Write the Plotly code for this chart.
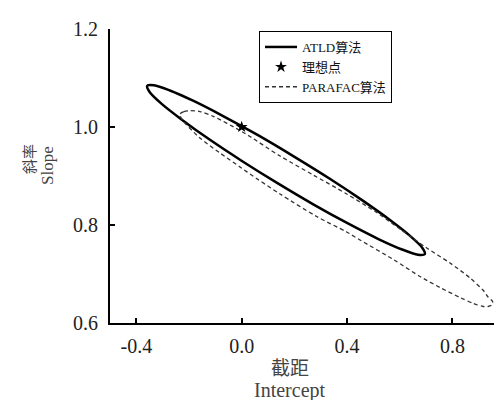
import plotly.graph_objects as go

# ATLD confidence ellipse outline (going round the ellipse)
atld_x = [0.6954, 0.6855, 0.6403, 0.5629, 0.4584, 0.3346, 0.1990, 0.0619, -0.0687,
          -0.1827, -0.2727, -0.3331, -0.3589, -0.3490, -0.3038, -0.2260, -0.1219, 0.0023,
          0.1375, 0.2750, 0.4052, 0.5192, 0.6092, 0.6696, 0.6954]
atld_y = [0.7406, 0.7537, 0.7773, 0.8102, 0.8502, 0.8943, 0.9396, 0.9833, 1.0218,
          1.0531, 1.0745, 1.0851, 1.0839, 1.0708, 1.0471, 1.0143, 0.9743, 0.9302,
          0.8849, 0.8412, 0.8027, 0.7714, 0.7500, 0.7394, 0.7406]

# PARAFAC confidence ellipse outline (going round the ellipse)
parafac_x = [-0.2343, -0.2191, -0.1964, -0.1584, -0.1079, -0.0065, 0.0315, 0.1455, 0.2719,
             0.3988, 0.5127, 0.6012, 0.7026, 0.7911, 0.8671, 0.9176, 0.9354, 0.9526, 0.9495,
             0.9354, 0.9165, 0.8796, 0.8291, 0.7531, 0.6772, 0.5758, 0.4493, 0.3988, 0.2848,
             0.1455, 0.0315, -0.0065, -0.0824, -0.1584, -0.2153, -0.2343, -0.2343]
parafac_y = [1.0265, 1.0316, 1.0333, 1.0316, 1.0218, 0.9929, 0.9806, 0.9408, 0.9020,
             0.8633, 0.8255, 0.7918, 0.7531, 0.7224, 0.6918, 0.6663, 0.6531, 0.6439, 0.6367,
             0.6337, 0.6337, 0.6398, 0.6520, 0.6724, 0.6949, 0.7296, 0.7694, 0.7857, 0.8173,
             0.8633, 0.9041, 0.9184, 0.9469, 0.9776, 1.0082, 1.0224, 1.0265]

# ideal point
ideal_x = [0.0]
ideal_y = [1.0]

x_ticks = [-0.4, 0.0, 0.4, 0.8]
y_ticks = [0.6, 0.8, 1.0, 1.2]

serif = "Liberation Serif, Noto Sans CJK SC"

fig = go.Figure()
fig.add_trace(go.Scatter(x=atld_x, y=atld_y, mode="lines", name="ATLD算法",
                         line=dict(color="black", width=2.5, shape="spline", smoothing=0.8),
                         legendrank=1))
fig.add_trace(go.Scatter(x=parafac_x, y=parafac_y, mode="lines", name="PARAFAC算法",
                         line=dict(color="#333333", width=1.3, dash="4px,3px", shape="spline",
                                   smoothing=0.8),
                         legendrank=3))
fig.add_trace(go.Scatter(x=ideal_x, y=ideal_y, mode="markers", name="理想点",
                         marker=dict(symbol="star", size=9, color="black"),
                         legendrank=2))

axis_common = dict(showline=True, linecolor="black", linewidth=2, ticks="inside",
                   ticklen=5, tickwidth=1.5, tickcolor="black", showgrid=False,
                   zeroline=False, mirror=False, automargin=False,
                   tickfont=dict(family=serif, size=20, color="#222222"))

fig.update_xaxes(range=[-0.5, 0.958], tickvals=x_ticks,
                 ticktext=[f"{v:.1f}" for v in x_ticks], ticklabelstandoff=4, **axis_common)
fig.update_yaxes(range=[0.6, 1.2], tickvals=y_ticks,
                 ticktext=[f"{v:.1f}" for v in y_ticks], ticklabelstandoff=6, **axis_common)

# page -> plot-area paper coordinates (plot area: x 110..494, y 29..323 on the page)
def px(xp):
    return (xp - 110) / 384

def py(yp):
    return (323 - yp) / 294

title_color = "#444444"
fig.add_annotation(text="截距", xref="paper", yref="paper", x=px(290), y=py(366.7),
                   xanchor="center", yanchor="middle", showarrow=False,
                   font=dict(family="Noto Sans CJK SC", size=19, color=title_color))
fig.add_annotation(text="Intercept", xref="paper", yref="paper", x=px(290), y=py(390),
                   xanchor="center", yanchor="middle", showarrow=False,
                   font=dict(family=serif, size=20, color=title_color))
fig.add_annotation(text="斜率", xref="paper", yref="paper", x=px(28), y=py(159),
                   xanchor="center", yanchor="middle", showarrow=False, textangle=-90,
                   font=dict(family="Noto Sans CJK SC", size=15, color=title_color))
fig.add_annotation(text="Slope", xref="paper", yref="paper", x=px(47), y=py(166),
                   xanchor="center", yanchor="middle", showarrow=False, textangle=-90,
                   font=dict(family=serif, size=17, color=title_color))

fig.update_layout(
    width=494, height=400,
    margin=dict(l=110, r=0, t=29, b=77),
    paper_bgcolor="white", plot_bgcolor="white",
    showlegend=True,
    legend=dict(x=px(259), y=py(31), xanchor="left", yanchor="top",
                bordercolor="black", borderwidth=1, bgcolor="white",
                font=dict(family=serif, size=13, color="#111111"),
                tracegroupgap=0, itemwidth=32),
)

# remove the default page margin so the 494x400 figure fills the window exactly
fig.write_html("out.html",
               config={"displayModeBar": False},
               post_script="document.body.style.margin='0';"
                           "document.body.style.overflow='hidden';")
